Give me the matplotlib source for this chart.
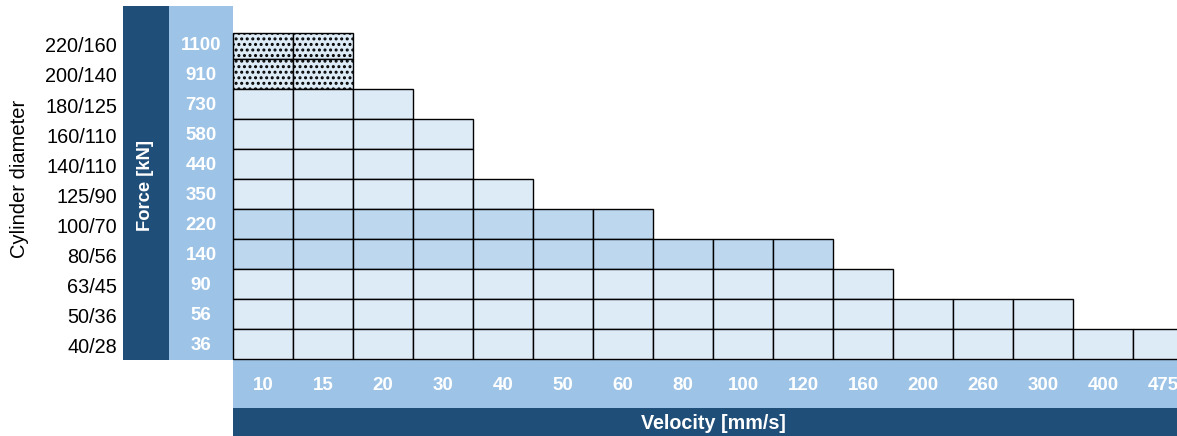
import matplotlib
matplotlib.use("Agg")
import matplotlib.pyplot as plt
from matplotlib.patches import Rectangle

plt.rcParams['font.family'] = ['Liberation Sans', 'DejaVu Sans']
plt.rcParams['hatch.linewidth'] = 1.4

# ---------------------- Data ----------------------
cylinders = ["220/160", "200/140", "180/125", "160/110", "140/110", "125/90",
             "100/70", "80/56", "63/45", "50/36", "40/28"]
forces = ["1100", "910", "730", "580", "440", "350", "220", "140", "90", "56", "36"]
velocities = ["10", "15", "20", "30", "40", "50", "60", "80", "100", "120",
              "160", "200", "260", "300", "400", "475"]
# number of velocity cells available per cylinder
row_lengths = [2, 2, 3, 4, 4, 5, 7, 10, 11, 14, 16]
# row style: 0 = standard, 1 = highlighted, 2 = dotted (on request)
row_styles = [2, 2, 0, 0, 0, 0, 1, 1, 0, 0, 0]

# ---------------------- Layout (pixels) ----------------------
W, H = 1177, 436
dark = "#1F4E79"
mid = "#9DC3E6"
fills = {0: "#DDEBF7", 1: "#BDD7EE", 2: "#DDEBF7"}

grid_x0 = 233
cell_w = 60
grid_bottom = 359
cell_h = 30
first_h = 26  # top row is a little shorter

fig = plt.figure(figsize=(W / 100, H / 100), dpi=100)
ax = fig.add_axes([0, 0, 1, 1])
ax.set_xlim(0, W)
ax.set_ylim(H, 0)
ax.axis("off")

n = len(cylinders)
grid_top = grid_bottom - n * cell_h

# side bands
ax.add_patch(Rectangle((123, 6), 46, grid_bottom + 1 - 6, color=dark, lw=0))
ax.add_patch(Rectangle((169, 6), 64, grid_bottom + 1 - 6, color=mid, lw=0))
ax.add_patch(Rectangle((grid_x0, grid_bottom + 1), W - grid_x0, 48, color=mid, lw=0))
ax.add_patch(Rectangle((grid_x0, grid_bottom + 49), W - grid_x0, H - grid_bottom - 49, color=dark, lw=0))

# cells
for i, (cyl, f) in enumerate(zip(cylinders, forces)):
    y = grid_top + i * cell_h
    h = cell_h
    if i == 0:
        y, h = y + cell_h - first_h, first_h
    style = row_styles[i]
    for j in range(row_lengths[i]):
        x = grid_x0 + j * cell_w
        ax.add_patch(Rectangle((x, y), cell_w, h, facecolor=fills[style],
                               edgecolor="black", lw=1.0,
                               hatch="..." if style == 2 else None))
    yc = grid_top + i * cell_h + cell_h / 2
    ax.text(117, yc + 3, cyl, ha="right", va="center", fontsize=14.3, color="black")
    ax.text(201, yc + 1, f, ha="center", va="center", fontsize=13.5, color="white",
            fontweight="bold")

for j, v in enumerate(velocities):
    ax.text(grid_x0 + j * cell_w + cell_w / 2, grid_bottom + 26, v, ha="center",
            va="center", fontsize=13.5, color="white", fontweight="bold")

ax.text(713, grid_bottom + 64, "Velocity [mm/s]", ha="center",
        va="center", fontsize=14.2, color="white", fontweight="bold")
ax.text(146, 185, "Force [kN]", ha="center", va="center",
        rotation=90, fontsize=13.2, color="white", fontweight="bold")
ax.text(20, 179, "Cylinder diameter", ha="center",
        va="center", rotation=90, fontsize=14.5, color="black")

fig.savefig("out.png", dpi=100)
